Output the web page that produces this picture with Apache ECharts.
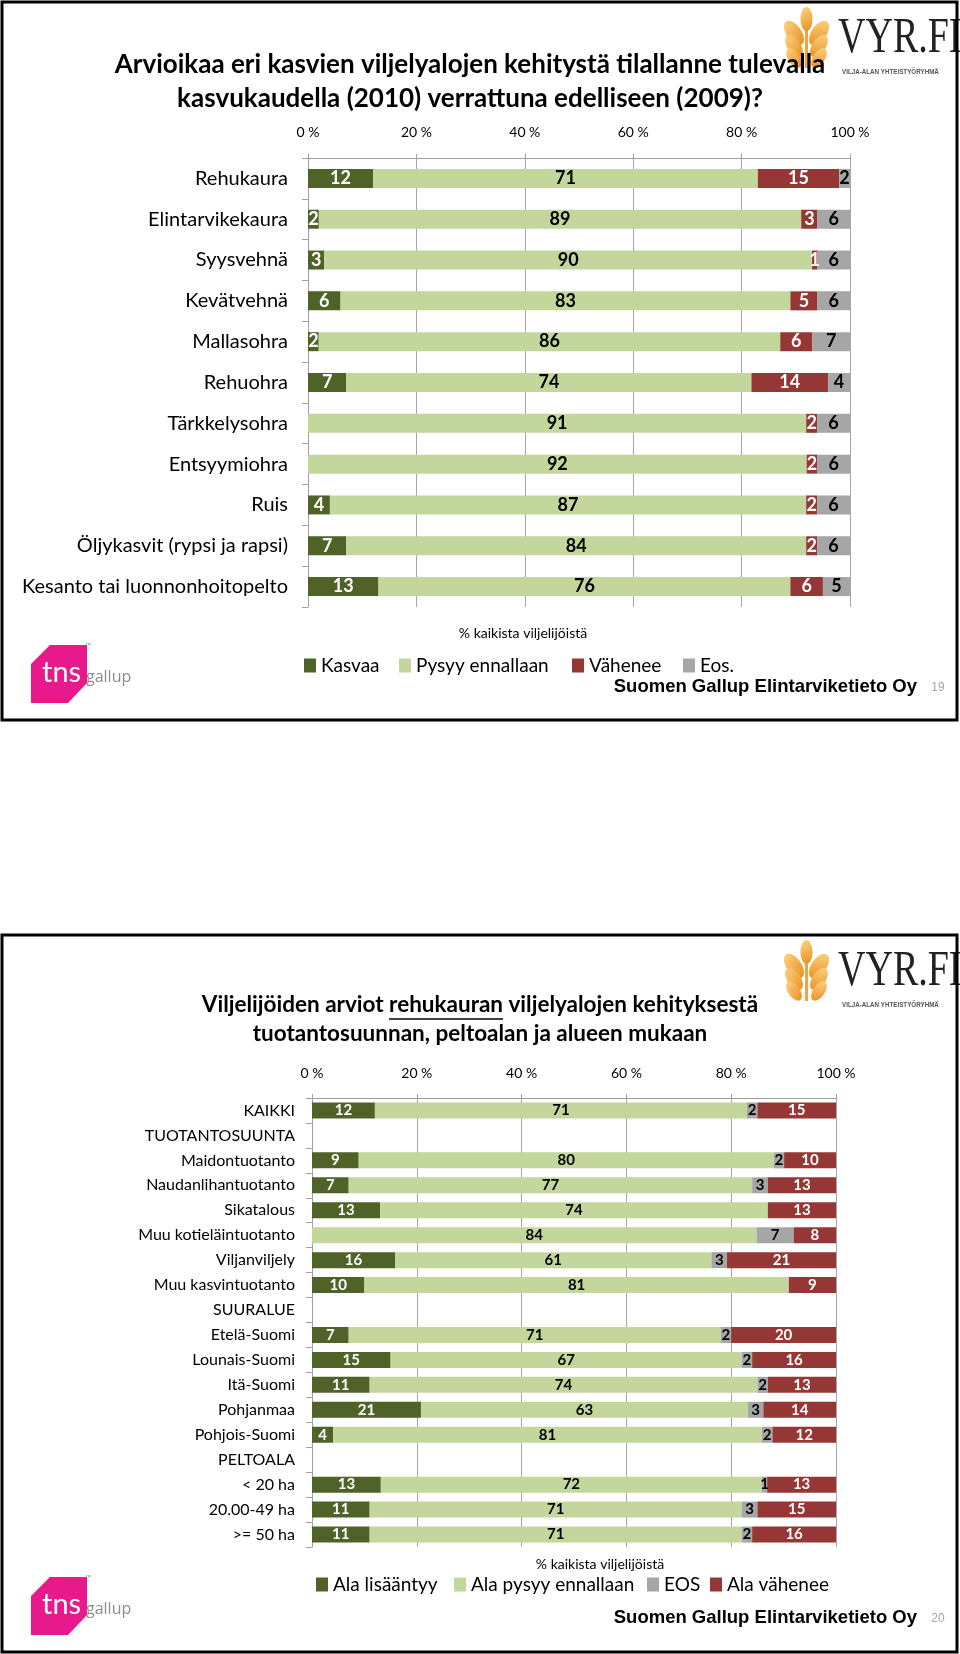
<!DOCTYPE html>
<html><head><meta charset="utf-8">
<script src="https://cdn.jsdelivr.net/npm/echarts@6/dist/echarts.min.js"></script>
<style>html,body{margin:0;padding:0;background:#fff}#c{width:960px;height:1654px}</style>
</head><body><div id="c"></div>
<script>
// ---- Chart 1 data ----
const crops = ['Rehukaura','Elintarvikekaura','Syysvehnä','Kevätvehnä','Mallasohra','Rehuohra','Tärkkelysohra','Entsyymiohra','Ruis','Öljykasvit (rypsi ja rapsi)','Kesanto tai luonnonhoitopelto'];
const kasvaa  = [12, 2, 3, 6, 2, 7, 0, 0, 4, 7, 13];
const pysyy   = [71,89,90,83,86,74,91,92,87,84,76];
const vahenee = [15, 3, 1, 5, 6,14, 2, 2, 2, 2, 6];
const eos     = [ 2, 6, 6, 6, 7, 4, 6, 6, 6, 6, 5];
const legend1 = ['Kasvaa','Pysyy ennallaan','Vähenee','Eos.'];

// ---- Chart 2 data ----
const groups = ['KAIKKI','TUOTANTOSUUNTA','Maidontuotanto','Naudanlihantuotanto','Sikatalous','Muu kotieläintuotanto','Viljanviljely','Muu kasvintuotanto','SUURALUE','Etelä-Suomi','Lounais-Suomi','Itä-Suomi','Pohjanmaa','Pohjois-Suomi','PELTOALA','< 20 ha','20.00-49 ha','>= 50 ha'];
const alaLisaantyy = [12,null, 9, 7,13, 0,16,10,null, 7,15,11,21, 4,null,13,11,11];
const alaPysyy     = [71,null,80,77,74,84,61,81,null,71,67,74,63,81,null,72,71,71];
const alaEos       = [ 2,null, 2, 3, 0, 7, 3, 0,null, 2, 2, 2, 3, 2,null, 1, 3, 2];
const alaVahenee   = [15,null,10,13,13, 8,21, 9,null,20,16,13,14,12,null,13,15,16];
const legend2 = ['Ala lisääntyy','Ala pysyy ennallaan','EOS','Ala vähenee'];

const tickLabels = ['0 %','20 %','40 %','60 %','80 %','100 %'];

const C_UP = '#4F6228', C_SAME = '#C3D69B', C_DOWN = '#953735', C_EOS = '#A6A6A6';
const FONT = 'Lato, "Open Sans", sans-serif';

function mk(name, arr, all, axis, color, lc, fs, bw, stack) {
  return {
    name, type: 'bar', stack, xAxisIndex: axis, yAxisIndex: axis, barWidth: bw,
    itemStyle: { color }, emphasis: { disabled: true },
    label: { show: true, position: 'inside', color: lc, fontFamily: FONT, fontWeight: 'bold', fontSize: fs,
      formatter: p => (p.data && p.data.raw) ? String(p.data.raw) : '' },
    data: arr.map((v, i) => {
      if (v == null) return '-';
      const s = all.reduce((a, b) => a + (b[i] || 0), 0);
      return { value: v / s * 100, raw: v };
    })
  };
}

function xAx(grid, margin) {
  return {
    type: 'value', gridIndex: grid, min: 0, max: 100, interval: 20, position: 'top',
    axisLine: { show: true, lineStyle: { color: '#A0A0A0', width: 1 } },
    axisTick: { show: true, length: 4, lineStyle: { color: '#A0A0A0' } },
    splitLine: { show: true, lineStyle: { color: '#A6A6A6', width: 1 } },
    axisLabel: { formatter: v => tickLabels[Math.round(v / 20)], fontFamily: FONT, fontSize: 14, color: '#000', margin }
  };
}
function yAx(grid, data, fs, margin) {
  return {
    type: 'category', gridIndex: grid, inverse: true, data,
    axisLine: { show: true, lineStyle: { color: '#A0A0A0', width: 1 } },
    axisTick: { show: true, length: 6, lineStyle: { color: '#A0A0A0' } },
    axisLabel: { fontFamily: FONT, fontSize: fs, color: '#000', margin }
  };
}

const all1 = [kasvaa, pysyy, vahenee, eos];
const all2 = [alaLisaantyy, alaPysyy, alaEos, alaVahenee];

// text measuring for underline
const mctx = document.createElement('canvas').getContext('2d');
function tw(t, font) { mctx.font = font; return mctx.measureText(t).width; }

const t2font = 'bold 22.5px Lato';
const t2l1a = 'Viljelijöiden arviot ', t2l1b = 'rehukauran', t2l1c = ' viljelyalojen kehityksestä';
const t2w = tw(t2l1a + t2l1b + t2l1c, t2font);
const t2x0 = 480 - t2w / 2;
const ulx1 = t2x0 + tw(t2l1a, t2font), ulx2 = ulx1 + tw(t2l1b, t2font);

function tnsLogo(dy) {
  return [
    { type: 'polygon', shape: { points: [[50,645+dy],[87,645+dy],[87,683+dy],[68,703+dy],[31,703+dy],[31,664+dy]] }, style: { fill: '#E8198B' } },
    { type: 'text', x: 42, y: 673 + dy, style: { text: 'tns', font: '29px Lato', fill: '#fff', textVerticalAlign: 'middle' } },
    { type: 'text', x: 86, y: 677 + dy, style: { text: 'gallup', font: '16px "Open Sans"', fill: '#8C8C8C', textVerticalAlign: 'middle' } },
    { type: 'text', x: 85, y: 642 + dy, style: { text: '™', font: '6px sans-serif', fill: '#888' } }
  ];
}
function vyrLogo(dy) {
  const els = [];
  const grad = { type: 'linear', x: 0, y: 0, x2: 1, y2: 1, colorStops: [{ offset: 0, color: '#FCD685' }, { offset: 1, color: '#EA8C1E' }] };
  els.push({ type: 'rect', shape: { x: 805, y: 22 + dy, width: 3, height: 46 }, style: { fill: '#EFA446' } });
  els.push({ type: 'ellipse', x: 806.5, y: 19 + dy, shape: { cx: 0, cy: 0, rx: 6, ry: 12 }, style: { fill: grad } });
  const ys = [33, 46, 58];
  ys.forEach((yy, k) => {
    const rx = 7.5 - k * 0.8, ry = 14 - k * 1.5;
    els.push({ type: 'ellipse', x: 794, y: yy + dy, rotation: 0.6, shape: { cx: 0, cy: 0, rx, ry }, style: { fill: grad } });
    els.push({ type: 'ellipse', x: 819, y: yy + dy, rotation: -0.6, shape: { cx: 0, cy: 0, rx, ry }, style: { fill: grad } });
  });
  els.push({ type: 'text', x: 838, y: 64 + dy, scaleX: 0.76, style: { text: 'VYR.FI', font: '50px "Liberation Serif", "DejaVu Serif", serif', fill: '#222', textVerticalAlign: 'bottom' } });
  els.push({ type: 'text', x: 842, y: 72 + dy, scaleX: 0.78, style: { text: 'VILJA-ALAN YHTEISTYÖRYHMÄ', font: 'bold 8px "Liberation Sans", sans-serif', fill: '#555', textVerticalAlign: 'middle' } });
  return els;
}

function legendsFor(names, lefts, top, fs) {
  return names.map((n, i) => ({
    data: [n], left: lefts[i], top, itemWidth: 12, itemHeight: 14, icon: 'rect', selectedMode: false,
    textStyle: { fontFamily: FONT, fontSize: fs, color: '#000' }
  }));
}

const graphics = [
  { type: 'rect', shape: { x: 2, y: 2, width: 955, height: 718 }, style: { fill: 'none', stroke: '#000', lineWidth: 3 }, z: 10 },
  { type: 'rect', shape: { x: 2, y: 935, width: 955, height: 717 }, style: { fill: 'none', stroke: '#000', lineWidth: 3 }, z: 10 },
  ...vyrLogo(0), ...vyrLogo(933),
  { type: 'text', x: 470, y: 65, style: { text: 'Arvioikaa eri kasvien viljelyalojen kehitystä tilallanne tulevalla', font: 'bold 26px Lato', fill: '#000', textAlign: 'center', textVerticalAlign: 'middle' }, z: 20 },
  { type: 'text', x: 470, y: 99, style: { text: 'kasvukaudella (2010) verrattuna edelliseen (2009)?', font: 'bold 26px Lato', fill: '#000', textAlign: 'center', textVerticalAlign: 'middle' }, z: 20 },
  { type: 'text', x: 523, y: 633, style: { text: '% kaikista viljelijöistä', font: '14px Lato', fill: '#000', textAlign: 'center', textVerticalAlign: 'middle' } },
  { type: 'text', x: 917, y: 687, style: { text: 'Suomen Gallup Elintarviketieto Oy', font: 'bold 18.5px "Liberation Sans", Arial, sans-serif', fill: '#000', textAlign: 'right', textVerticalAlign: 'middle' } },
  { type: 'text', x: 938, y: 688, style: { text: '19', font: '12px "Liberation Sans", sans-serif', fill: '#A6A6A6', textAlign: 'center', textVerticalAlign: 'middle' } },
  ...tnsLogo(0),
  { type: 'text', x: t2x0, y: 1005, style: { text: t2l1a + t2l1b + t2l1c, font: t2font, fill: '#000', textVerticalAlign: 'middle' } },
  { type: 'line', shape: { x1: ulx1, y1: 1019, x2: ulx2, y2: 1019 }, style: { stroke: '#000', lineWidth: 1.5 } },
  { type: 'text', x: 480, y: 1034, style: { text: 'tuotantosuunnan, peltoalan ja alueen mukaan', font: t2font, fill: '#000', textAlign: 'center', textVerticalAlign: 'middle' } },
  { type: 'text', x: 600, y: 1564, style: { text: '% kaikista viljelijöistä', font: '14px Lato', fill: '#000', textAlign: 'center', textVerticalAlign: 'middle' } },
  { type: 'text', x: 917, y: 1618, style: { text: 'Suomen Gallup Elintarviketieto Oy', font: 'bold 18.5px "Liberation Sans", Arial, sans-serif', fill: '#000', textAlign: 'right', textVerticalAlign: 'middle' } },
  { type: 'text', x: 938, y: 1619, style: { text: '20', font: '12px "Liberation Sans", sans-serif', fill: '#A6A6A6', textAlign: 'center', textVerticalAlign: 'middle' } },
  ...tnsLogo(932)
];

const option = {
  animation: false,
  backgroundColor: '#fff',
  grid: [
    { left: 308, top: 158, width: 542, height: 449, containLabel: false },
    { left: 312, top: 1098, width: 524, height: 449, containLabel: false }
  ],
  xAxis: [xAx(0, 19), xAx(1, 18)],
  yAxis: [yAx(0, crops, 20, 20), yAx(1, groups, 16, 17)],
  legend: [
    ...legendsFor(legend1, [299, 394, 567, 678], 651, 19),
    ...legendsFor(legend2, [311, 449, 642, 705], 1570, 19)
  ],
  series: [
    mk('Kasvaa', kasvaa, all1, 0, C_UP, '#fff', 18, 19, 'a'),
    mk('Pysyy ennallaan', pysyy, all1, 0, C_SAME, '#000', 18, 19, 'a'),
    mk('Vähenee', vahenee, all1, 0, C_DOWN, '#fff', 18, 19, 'a'),
    mk('Eos.', eos, all1, 0, C_EOS, '#000', 18, 19, 'a'),
    mk('Ala lisääntyy', alaLisaantyy, all2, 1, C_UP, '#fff', 15, 16, 'b'),
    mk('Ala pysyy ennallaan', alaPysyy, all2, 1, C_SAME, '#000', 15, 16, 'b'),
    mk('EOS', alaEos, all2, 1, C_EOS, '#000', 15, 16, 'b'),
    mk('Ala vähenee', alaVahenee, all2, 1, C_DOWN, '#fff', 15, 16, 'b')
  ],
  graphic: { elements: graphics }
};

const chart = echarts.init(document.getElementById('c'), null, { renderer: 'canvas' });
chart.setOption(option);
</script>
</body></html>
